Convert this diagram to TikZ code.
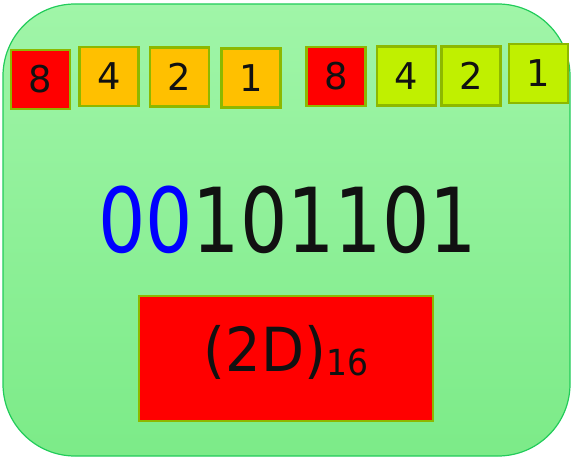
\documentclass[tikz,border=0pt]{standalone}
\usepackage{fontspec}
\setmainfont{DejaVu Sans}
\usetikzlibrary{positioning}
\definecolor{panelTop}{HTML}{A0F5A8}
\definecolor{panelBot}{HTML}{7CEB88}
\definecolor{panelEdge}{HTML}{22CC5A}
\definecolor{bitEdge}{HTML}{8DB800}
\definecolor{bitRed}{HTML}{FF0000}
\definecolor{bitOrange}{HTML}{FFC000}
\definecolor{bitLime}{HTML}{C0F000}
\definecolor{inkBlack}{HTML}{111111}
\tikzset{
  panel/.style={draw=panelEdge, line width=1.2bp, top color=panelTop, bottom color=panelBot, rounded corners=72bp},
  weight/.style={draw=bitEdge, line width=2.2bp, rectangle, minimum size=59bp, inner sep=0pt, text=inkBlack, font=\fontsize{37}{37}\selectfont},
  redw/.style={weight, fill=bitRed},
  hiw/.style={weight, fill=bitOrange},
  low/.style={weight, fill=bitLime},
  bignum/.style={inner sep=0pt, text=inkBlack, font=\fontsize{90}{90}\selectfont},
  hexbox/.style={draw=bitEdge, line width=2.2bp, fill=bitRed, rectangle, minimum width=294bp, minimum height=125bp, text=inkBlack, text height=46bp, text depth=20bp, font=\fontsize{61}{61}\selectfont},
}

\begin{document}
\begin{tikzpicture}[x=1bp, y=-1bp]
\useasboundingbox (0,0) rectangle (572,459);

% background panel
\path[panel] (3,4) rectangle (570,456);

% high nibble
\node[redw] (h8) at (40.5,79.5) {8};
\node[hiw] (h4) at (109,76.5) {4};
\node[hiw] (h2) at (179.5,77) {2};
\node[hiw] (h1) at (251,78) {1};

% low nibble
\node[redw] (l8) at (336,76.5) {8};
\node[low] (l4) at (406.5,76) {4};
\node[low] (l2) at (471,76) {2};
\node[low] (l1) at (538.5,73.5) {1};

\node[bignum, anchor=base] (bits) at (287.5,253)
  {\scalebox{0.83}[1]{\textcolor{blue}{00}101101}};

\node[hexbox] (hex) at (286,358.5)
  {\scalebox{0.92}[1]{(2D)\raisebox{-4bp}{\fontsize{36}{36}\selectfont 16}}};

\end{tikzpicture}
\end{document}
